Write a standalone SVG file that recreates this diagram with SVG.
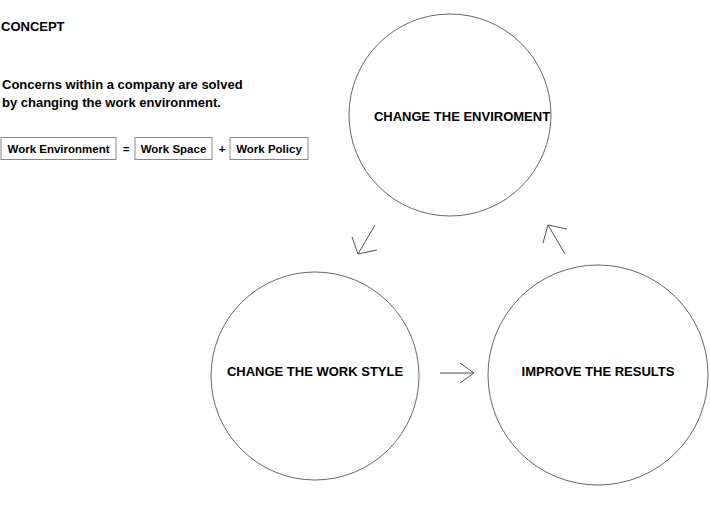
<svg xmlns="http://www.w3.org/2000/svg" width="710" height="530" viewBox="0 0 710 530">
<style>
text{font-family:"Liberation Sans",Arial,sans-serif;font-weight:bold;fill:#000}
.c{fill:#fff;stroke:#666;stroke-width:1}
.b{fill:#fff;stroke:#888;stroke-width:1}
.a{stroke:#555;stroke-width:1;fill:none}
</style>
<rect width="710" height="530" fill="#fff"/>
<text x="1" y="31" font-size="13">CONCEPT</text>
<text x="2" y="89" font-size="13">Concerns within a company are solved</text>
<text x="2" y="107" font-size="13">by changing the work environment.</text>
<g id="box-env"><rect class="b" x="1" y="137.5" width="115" height="22"/><text x="58.5" y="153" font-size="11.5" text-anchor="middle">Work Environment</text></g>
<text x="126" y="153" font-size="11.5" text-anchor="middle">=</text>
<g id="box-space"><rect class="b" x="135" y="137.5" width="77" height="22"/><text x="173.5" y="153" font-size="11.5" text-anchor="middle">Work Space</text></g>
<text x="222" y="153" font-size="11.5" text-anchor="middle">+</text>
<g id="box-policy"><rect class="b" x="230" y="137.5" width="78" height="22"/><text x="269" y="153" font-size="11.5" text-anchor="middle">Work Policy</text></g>
<g id="n-env"><circle class="c" cx="450" cy="115" r="101"/><text x="462" y="121" font-size="13" text-anchor="middle">CHANGE THE ENVIROMENT</text></g>
<g id="n-style"><circle class="c" cx="315" cy="376" r="104"/><text x="315" y="376" font-size="13" text-anchor="middle">CHANGE THE WORK STYLE</text></g>
<g id="n-results"><circle class="c" cx="598" cy="375" r="110"/><text x="598" y="376" font-size="13" text-anchor="middle">IMPROVE THE RESULTS</text></g>
<g id="connectors">
<path class="a" d="M375,225 L358,254 M352,237 L358,254 L377,250"/>
<path class="a" d="M565,254 L548,225 M543,243 L548,225 L567,229"/>
<path class="a" d="M440,373 L474,373 M460,363 L474,373 L460,383"/>
</g>
</svg>
